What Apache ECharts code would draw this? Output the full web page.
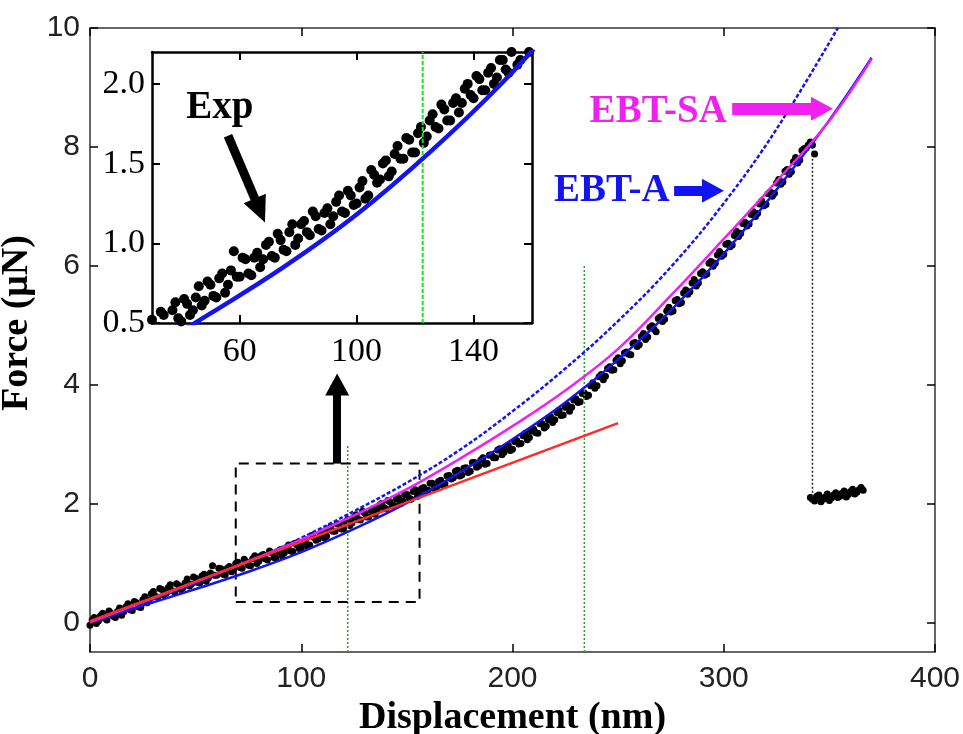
<!DOCTYPE html>
<html>
<head>
<meta charset="utf-8">
<script src="https://cdn.jsdelivr.net/npm/echarts@6/dist/echarts.min.js"></script>
<style>
html,body{margin:0;padding:0;background:#fff}
#container{width:963px;height:734px}
</style>
</head>
<body>
<div id="container"></div>
<script>
// ticks
var xTicks = [0, 100, 200, 300, 400];
var yTicks = [0, 2, 4, 6, 8, 10];
var insetXTicks = [60, 100, 140];
var insetYTicks = [0.5, 1.0, 1.5, 2.0];

var expLoading = [
  [0,-0.05],[2,0.08],[4,0.02],[6,0.15],[8,0.04],[10,0.15],[12,0.08],[14,0.24],[16,0.18],[18,0.31],
  [20,0.20],[22,0.33],[24,0.25],[26,0.43],[28,0.37],[30,0.52],[32,0.42],[34,0.55],[36,0.49],[38,0.63],
  [40,0.51],[42,0.62],[44,0.58],[46,0.73],[48,0.64],[50,0.74],[52,0.66],[54,0.81],[56,0.74],[58,0.95],
  [60,0.79],[62,0.90],[64,0.80],[66,0.94],[68,0.90],[70,1.01],[72,0.91],[74,1.02],[76,0.95],[78,1.12],
  [80,1.03],[82,1.14],[84,1.05],[86,1.17],[88,1.08],[90,1.22],[92,1.17],[94,1.30],[96,1.19],[98,1.30],
  [100,1.25],[102,1.39],[104,1.30],[106,1.43],[108,1.40],[110,1.52],[112,1.45],[114,1.61],[116,1.53],[118,1.65],
  [120,1.57],[122,1.73],[124,1.67],[126,1.81],[128,1.72],[130,1.84],[132,1.77],[134,1.91],[136,1.88],[138,2.00],
  [140,1.91],[142,2.03],[144,1.96],[146,2.10],[148,2.04],[150,2.15],[152,2.07],[154,2.23],[156,2.15],[158,2.27],
  [160,2.22],[162,2.34],[164,2.27],[166,2.39],[168,2.33],[170,2.47],[172,2.43],[174,2.56],[176,2.48],[178,2.60],
  [180,2.54],[182,2.69],[184,2.63],[186,2.77],[188,2.67],[190,2.82],[192,2.77],[194,2.92],[196,2.86],[198,2.98],
  [200,2.91],[202,3.06],[204,3.01],[206,3.18],[208,3.11],[210,3.25],[212,3.18],[214,3.34],[216,3.30],[218,3.46],
  [220,3.41],[222,3.57],[224,3.49],[226,3.65],[228,3.62],[230,3.76],[232,3.71],[234,3.86],[236,3.82],[238,4.03],
  [240,3.98],[242,4.17],[244,4.14],[246,4.30],[248,4.25],[250,4.45],[252,4.40],[254,4.55],[256,4.50],[258,4.71],
  [260,4.67],[262,4.86],[264,4.80],[266,4.99],[268,4.89],[270,5.14],[272,5.10],[274,5.30],[276,5.24],[278,5.43],
  [280,5.38],[282,5.59],[284,5.56],[286,5.77],[288,5.71],[290,5.90],[292,5.86],[294,6.07],[296,6.04],[298,6.24],
  [300,6.19],[302,6.38],[304,6.35],[306,6.58],[308,6.54],[310,6.73],[312,6.70],[314,6.91],[316,6.88],[318,7.09],
  [320,7.03],[322,7.24],[324,7.22],[326,7.45],[328,7.41],[330,7.62],[332,7.58],[334,7.82],[336,7.78],[338,7.97],
  [340,8.03],[342,8.03],[343,7.88]
];
var expLoadingOdd = [
  [1,0.04],[3,-0.02],[5,0.11],[7,0.07],[9,0.19],[11,0.10],[13,0.18],[15,0.12],[17,0.26],[19,0.21],
  [21,0.35],[23,0.26],[25,0.38],[27,0.33],[29,0.48],[31,0.44],[33,0.57],[35,0.46],[37,0.58],[39,0.53],
  [41,0.65],[43,0.55],[45,0.66],[47,0.61],[49,0.76],[51,0.67],[53,0.78],[55,0.69],[57,0.83],[59,0.79],
  [61,0.91],[63,0.81],[65,0.91],[67,0.85],[69,0.99],[71,0.92],[73,1.06],[75,0.96],[77,1.07],[79,0.99],
  [81,1.12],[83,1.07],[85,1.20],[87,1.09],[89,1.19],[91,1.12],[93,1.26],[95,1.20],[97,1.33],[99,1.24],
  [101,1.35],[103,1.28],[105,1.46],[107,1.38],[109,1.50],[111,1.42],[113,1.56],[115,1.53],[117,1.66],[119,1.57],
  [121,1.69],[123,1.63],[125,1.77],[127,1.73],[129,1.87],[131,1.77],[133,1.88],[135,1.82],[137,1.97],[139,1.93],
  [141,2.05],[143,1.96],[145,2.07],[147,2.00],[149,2.15],[151,2.09],[153,2.20],[155,2.12],[157,2.25],[159,2.20],
  [161,2.34],[163,2.25],[165,2.37],[167,2.31],[169,2.46],[171,2.41],[173,2.54],[175,2.46],[177,2.59],[179,2.52],
  [181,2.69],[183,2.61],[185,2.73],[187,2.66],[189,2.81],[191,2.77],[193,2.90],[195,2.82],[197,2.95],[199,2.89],
  [201,3.04],[203,3.00],[205,3.14],[207,3.07],[209,3.22],[211,3.19],[213,3.34],[215,3.27],[217,3.41],[219,3.36],
  [221,3.53],[223,3.48],[225,3.62],[227,3.55],[229,3.74],[231,3.70],[233,3.85],[235,3.80],[237,3.98],[239,3.94],
  [241,4.13],[243,4.08],[245,4.27],[247,4.24],[249,4.41],[251,4.35],[253,4.53],[255,4.51],[257,4.69],[259,4.64],
  [261,4.81],[263,4.76],[265,4.96],[267,4.93],[269,5.11],[271,5.06],[273,5.24],[275,5.22],[277,5.41],[279,5.36],
  [281,5.54],[283,5.52],[285,5.71],[287,5.66],[289,5.87],[291,5.84],[293,6.04],[295,5.99],[297,6.18],[299,6.16],
  [301,6.36],[303,6.32],[305,6.51],[307,6.49],[309,6.71],[311,6.67],[313,6.86],[315,6.83],[317,7.04],[319,7.01],
  [321,7.21],[323,7.17],[325,7.39],[327,7.37],[329,7.59],[331,7.54],[333,7.75],[335,7.73],[337,7.94],[339,7.98],
  [341,8.08]
];
var expAfterBreak = [
  [341,2.10],[342,2.07],[343,2.04],[344,2.12],[345,2.14],[346,2.03],[347,2.07],[348,2.11],[349,2.16],[350,2.05],
  [351,2.09],[352,2.14],[353,2.18],[354,2.10],[355,2.12],[356,2.17],[357,2.21],[358,2.11],[359,2.15],[360,2.20],
  [361,2.24],[362,2.16],[363,2.19],[364,2.23],[365,2.27],[366,2.22]
];
var breakDrop = [[342,8.0],[342,2.1]];

// model curves
var ebtSa = [[0,0],[25,0.34],[50,0.68],[75,1.03],[100,1.39],[125,1.80],[150,2.24],[175,2.75],[200,3.30],
  [225,3.90],[250,4.60],[275,5.50],[300,6.45],[325,7.42],[350,8.44],[370,9.48]];
var ebtA = [[0,0],[25,0.28],[50,0.56],[75,0.85],[100,1.18],[125,1.57],[150,2.01],[175,2.52],[200,3.08],
  [225,3.70],[250,4.42],[275,5.25],[300,6.20],[325,7.28],[350,8.45],[370,9.50]];
var ebtADotted = [[0,0],[25,0.32],[50,0.66],[75,1.02],[100,1.42],[125,1.87],[150,2.35],[175,2.90],[200,3.55],
  [225,4.27],[250,5.07],[275,5.98],[300,7.05],[325,8.30],[354,10.0]];
var linearFit = [[0,0.02],[250,3.35]];

// guides and annotations
var guideA = [[122,-0.5],[122,3.0]];
var guideB = [[234,-0.5],[234,6.0]];
var insetGuide = [[122.6,0.5],[122.6,2.2]];
var zoomBox = [[69,0.34],[156,0.34],[156,2.67],[69,2.67],[69,0.34]];

var axisFont = '"Liberation Sans", Arial, sans-serif';
var serifFont = '"Liberation Serif", "Times New Roman", serif';

var chart = echarts.init(document.getElementById('container'));

function boxAxis(pos, grid, min, max, ticks, showLabel, extra) {
  var a = {
    type: 'value', gridIndex: grid, position: pos, min: min, max: max,
    axisLine: {show: true, onZero: false, lineStyle: {color: grid === 0 ? '#333' : '#000', width: grid === 0 ? 1.5 : 2.5}},
    axisTick: {show: true, inside: true, length: 8, customValues: ticks, lineStyle: {color: '#000', width: grid === 0 ? 1.5 : 2}},
    axisLabel: {show: showLabel, customValues: ticks},
    splitLine: {show: false}
  };
  for (var k in extra) a[k] = extra[k];
  return a;
}

var option = {
  animation: false,
  backgroundColor: '#fff',
  grid: [
    {left: 90, right: 28, top: 28, bottom: 82, containLabel: false, outerBoundsMode: 'none'},
    {left: 152, top: 52, width: 380, height: 271, show: true, backgroundColor: '#fff', borderWidth: 0,
      containLabel: false, outerBoundsMode: 'none'}
  ],
  xAxis: [
    boxAxis('bottom', 0, 0, 400, xTicks, true, {
      name: 'Displacement (nm)', nameLocation: 'middle', nameGap: 29,
      nameTextStyle: {fontFamily: serifFont, fontWeight: 'bold', fontSize: 38, color: '#000'}
    }),
    boxAxis('top', 0, 0, 400, xTicks, false, {}),
    boxAxis('bottom', 1, 30, 160, insetXTicks, true, {}),
    boxAxis('top', 1, 30, 160, insetXTicks, false, {})
  ],
  yAxis: [
    boxAxis('left', 0, -0.5, 10, yTicks, true, {
      name: 'Force (\u03bcN)', nameLocation: 'middle', nameGap: 42,
      nameTextStyle: {fontFamily: serifFont, fontWeight: 'bold', fontSize: 38, color: '#000', padding: [0, 0, 0, 34]}
    }),
    boxAxis('right', 0, -0.5, 10, yTicks, false, {}),
    boxAxis('left', 1, 0.5, 2.2, insetYTicks, true, {}),
    boxAxis('right', 1, 0.5, 2.2, insetYTicks, false, {})
  ],
  series: []
};

option.xAxis[0].axisLabel = {show: true, customValues: xTicks, margin: 12, fontFamily: axisFont, fontSize: 30, color: '#222'};
option.yAxis[0].axisLabel = {show: true, customValues: yTicks, margin: 10, fontFamily: axisFont, fontSize: 30, color: '#222'};
option.xAxis[2].axisLabel = {show: true, customValues: insetXTicks, margin: 12, fontFamily: serifFont, fontSize: 34, color: '#000'};
option.yAxis[2].axisLabel = {show: true, customValues: insetYTicks, margin: 7, fontFamily: serifFont, fontSize: 34, color: '#000',
  formatter: function (v) { return v.toFixed(1); }};

function lineSeries(name, data, color, width, type, xi, extra) {
  var s = {
    name: name, type: 'line', data: data, xAxisIndex: xi, yAxisIndex: xi,
    showSymbol: false, symbol: 'none', silent: true, clip: true,
    lineStyle: {color: color, width: width, type: type}
  };
  for (var k in extra) s[k] = extra[k];
  return s;
}

function dots(name, data, xi, size) {
  return {name: name, type: 'scatter', data: data, xAxisIndex: xi, yAxisIndex: xi, symbolSize: size,
    silent: true, clip: true, itemStyle: {color: '#000', opacity: 1}};
}

option.series = [
  // main plot
  lineSeries('guideA', guideA, '#2a9d2a', 1.5, [2, 2], 0, {}),
  lineSeries('guideB', guideB, '#2a9d2a', 1.5, [2, 2], 0, {}),
  lineSeries('zoomBox', zoomBox, '#000', 2, [10, 7], 0, {}),
  lineSeries('breakDrop', breakDrop, '#222', 1.5, [2, 2], 0, {}),
  dots('Exp', expLoading, 0, 7),
  dots('Exp odd', expLoadingOdd, 0, 7),
  dots('Exp after break', expAfterBreak, 0, 7),
  lineSeries('EBT-A', ebtA, '#1414f0', 2.5, 'solid', 0, {smooth: 0.4}),
  lineSeries('EBT-A dotted', ebtADotted, '#1414f0', 2.5, [4, 2], 0, {smooth: 0.4}),
  lineSeries('EBT-SA', ebtSa, '#f020f0', 2.5, 'solid', 0, {smooth: 0.4}),
  lineSeries('linear', linearFit, '#ff2a2a', 2.5, 'solid', 0, {}),
  lineSeries('notesMain', [], '#000', 1, 'solid', 0, {
    markLine: {
      silent: true, animation: false, symbol: ['none', 'triangle'], symbolSize: [24, 22],
      label: {show: false},
      data: [
        [{coord: [304, 8.64], lineStyle: {color: '#f020f0', width: 12, type: 'solid'}}, {coord: [346.5, 8.64]}],
        [{coord: [276.5, 7.26], lineStyle: {color: '#1414f0', width: 10, type: 'solid'}}, {coord: [294.9, 7.26]}],
        [{coord: [117, 2.67], lineStyle: {color: '#000', width: 8, type: 'solid'}}, {coord: [117, 4.0]}]
      ]
    }
  }),
  // inset
  lineSeries('insetGuide', insetGuide, '#19e619', 2, [4, 2], 2, {}),
  dots('Exp inset', expLoading, 2, 10),
  dots('Exp inset odd', expLoadingOdd, 2, 10),
  lineSeries('EBT-A inset', ebtA, '#1414f0', 4.5, 'solid', 2, {smooth: 0.4}),
  lineSeries('notesInset', [], '#000', 1, 'solid', 2, {
    markLine: {
      silent: true, animation: false, symbol: ['none', 'triangle'], symbolSize: [24, 26],
      label: {show: false},
      data: [
        [{coord: [56, 1.675], lineStyle: {color: '#000', width: 9, type: 'solid'}}, {coord: [66.9, 1.206]}]
      ]
    }
  })
];

chart.setOption(option);

var noteLabels = [
  {text: 'EBT-SA', at: [269, 8.59], grid: 0, color: '#f020f0'},
  {text: 'EBT-A', at: [247, 7.26], grid: 0, color: '#1414f0'},
  {text: 'Exp', at: [53.2, 1.85], grid: 1, color: '#000'}
];
var graphics = noteLabels.map(function (n) {
  var p = chart.convertToPixel({gridIndex: n.grid}, n.at);
  return {
    type: 'text', x: p[0], y: p[1], z: 100, silent: true,
    style: {text: n.text, fill: n.color, font: 'bold 39px ' + serifFont, textAlign: 'center', textVerticalAlign: 'middle'}
  };
});
chart.setOption({graphic: graphics});
</script>
</body>
</html>
